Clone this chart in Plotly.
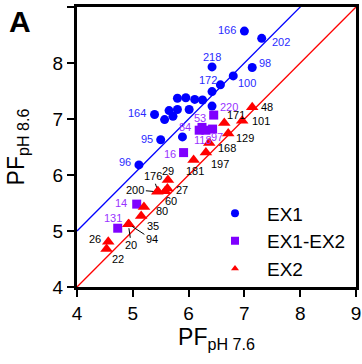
import plotly.graph_objects as go

# ---------------- data ----------------
ex1_x = [7.00, 7.31, 7.14, 6.80, 6.42, 6.42, 6.57, 6.25, 6.11, 5.95, 5.80,
         5.80, 5.65, 6.01, 6.42, 5.57, 5.72, 5.89, 5.39, 5.50, 5.11]
ex1_y = [8.57, 8.44, 7.92, 7.77, 7.93, 7.49, 7.61, 7.34, 7.35, 7.38, 7.37,
         7.17, 7.15, 7.17, 7.23, 6.99, 7.05, 6.68, 7.08, 6.63, 6.18]
ex1_lab = ['166', '202', '98', '100', '218', '172', '', '', '', '', '',
           '', '', '', '', '', '', '', '164', '95', '96']

ex12_x = [6.45, 6.24, 6.19, 6.31, 6.43, 5.91, 5.07, 4.73]
ex12_y = [7.07, 6.85, 6.80, 6.80, 6.82, 6.40, 5.48, 5.05]
ex12_lab = ['220', '53', '84', '118', '97', '16', '14', '131']

ex2_x = [7.14, 6.96, 6.64, 6.71, 6.37, 6.31, 6.09, 5.63, 5.62, 5.58, 5.45,
         5.44, 5.20, 5.15, 4.92, 4.93, 4.56, 4.53]
ex2_y = [7.21, 6.97, 6.93, 6.74, 6.57, 6.40, 6.27, 5.91, 5.76, 5.71, 5.71,
         5.70, 5.43, 5.27, 5.12, 5.12, 4.81, 4.68]
ex2_lab = ['48', '101', '171', '129', '168', '197', '181', '29', '27', '60', '176',
           '200', '80', '35', '20', '94', '26', '22']

line_x = [4, 9]
series_names = ['EX1', 'EX1-EX2', 'EX2']
tick_vals = [4, 5, 6, 7, 8, 9]

# ---------------- styles ----------------
FONT = 'Liberation Sans, Arial, sans-serif'
BLUE = '#0000ff'
PURPLE = '#7f00ff'
RED = '#ff0000'
BLUE_TXT = '#2a2aff'
PURPLE_TXT = '#9933ff'

ML, MR, MT, MB = 77, 6, 7, 77
W, H = 362, 364

# label placement: anchor, dx(px), dy(px, up)
label_pos = {
    '166': ('right', -6, 1), '202': ('left', 8, -4), '98': ('left', 5, 4),
    '100': ('left', 3, -7), '218': ('center', 0, 10), '172': ('center', -4, 12),
    '164': ('right', -7, 2), '95': ('right', -6, 1), '96': ('right', -6, 3),
    '220': ('left', 4, 8), '53': ('center', -2, 9), '84': ('right', -6, 3),
    '118': ('center', -3, -10), '97': ('center', 4, -8), '16': ('right', -6, -1),
    '14': ('right', -8, 1), '131': ('center', -5, 10),
    '48': ('left', 7, 0), '171': ('left', 1, 8), '101': ('left', 8, 0),
    '129': ('left', 6, -4), '168': ('left', 7, -5), '197': ('left', 3, -11),
    '181': ('center', 1, -11), '29': ('center', 0, 9), '27': ('left', 7, -2),
    '60': ('center', 6, -10), '80': ('left', 10, -4), '35': ('left', 4, -10),
    '26': ('right', -5, 3), '22': ('left', 3, -10),
}
# labels with leader lines: ax, ay (px, screen down positive)
arrow_pos = {'176': (-5, -15), '200': (-22, -2), '20': (3, 21), '94': (23, 15)}

fig = go.Figure()

fig.add_trace(go.Scatter(x=line_x, y=[v + 1 for v in line_x], mode='lines',
                         line=dict(color=BLUE, width=1.3),
                         showlegend=False, hoverinfo='skip'))
fig.add_trace(go.Scatter(x=line_x, y=line_x, mode='lines',
                         line=dict(color=RED, width=1.3),
                         showlegend=False, hoverinfo='skip'))

fig.add_trace(go.Scatter(x=ex1_x, y=ex1_y, mode='markers', showlegend=False,
                         marker=dict(symbol='circle', size=9, color=BLUE)))
fig.add_trace(go.Scatter(x=ex12_x, y=ex12_y, mode='markers', showlegend=False,
                         marker=dict(symbol='square', size=9, color=PURPLE)))
fig.add_trace(go.Scatter(x=ex2_x, y=ex2_y, mode='markers', showlegend=False,
                         marker=dict(symbol='triangle-up', size=11, color=RED)))

for name, sym, col, sz in zip(series_names, ['circle', 'square', 'triangle-up'],
                              [BLUE, PURPLE, RED], [8, 8, 7]):
    fig.add_trace(go.Scatter(x=[None], y=[None], mode='markers', name=name,
                             marker=dict(symbol=sym, size=sz, color=col)))

annotations = []
for xs, ys, labs, col in [(ex1_x, ex1_y, ex1_lab, BLUE_TXT),
                          (ex12_x, ex12_y, ex12_lab, PURPLE_TXT),
                          (ex2_x, ex2_y, ex2_lab, 'black')]:
    for x, y, lab in zip(xs, ys, labs):
        if not lab:
            continue
        if lab in arrow_pos:
            ax, ay = arrow_pos[lab]
            annotations.append(dict(x=x, y=y, xref='x', yref='y', text=lab,
                                    showarrow=True, arrowhead=0, arrowwidth=1,
                                    arrowcolor='black', ax=ax, ay=ay, standoff=4,
                                    font=dict(family=FONT, size=11, color=col)))
        else:
            anc, dx, dy = label_pos[lab]
            annotations.append(dict(x=x, y=y, xref='x', yref='y', text=lab,
                                    showarrow=False, xanchor=anc, yanchor='middle',
                                    xshift=dx, yshift=dy,
                                    font=dict(family=FONT, size=11, color=col)))

pw = W - ML - MR
ph = H - MT - MB
annotations.append(dict(x=(19.5 - ML) / pw, y=(H - MB - 21) / ph,
                        xref='paper', yref='paper', text='<b>A</b>',
                        xanchor='center', yanchor='middle', showarrow=False,
                        font=dict(family=FONT, size=30, color='black')))

axis_common = dict(range=[4, 9], tickvals=tick_vals, ticks='outside', ticklen=7,
                   tickwidth=2, tickcolor='black', showline=True, linewidth=3,
                   linecolor='black', mirror=True, showgrid=False, zeroline=False,
                   tickfont=dict(size=19), automargin=False)

fig.update_layout(
    width=W, height=H,
    margin=dict(l=ML, r=MR, t=MT, b=MB),
    paper_bgcolor='white', plot_bgcolor='white',
    font=dict(family=FONT, size=19, color='black'),
    xaxis=dict(**axis_common,
               title=dict(text='PF<sub>pH 7.6</sub>', font=dict(size=23), standoff=6)),
    yaxis=dict(**axis_common,
               title=dict(text='PF<sub>pH 8.6</sub>', font=dict(size=23), standoff=22)),
    legend=dict(x=(203 - ML) / pw, y=0.331, xanchor='left', yanchor='top',
                bgcolor='rgba(0,0,0,0)', font=dict(size=19), itemwidth=54,
                tracegroupgap=0),
    showlegend=True,
    annotations=annotations,
)

fig.write_html('out.html',
               config={'displayModeBar': False},
               post_script="document.body.style.margin='0px';"
                           "document.body.style.overflow='hidden';")
